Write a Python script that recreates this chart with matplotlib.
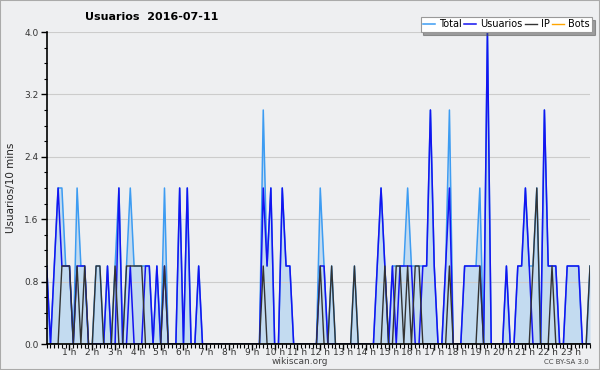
import matplotlib
matplotlib.use("Agg")
import matplotlib.pyplot as plt
from matplotlib.ticker import MultipleLocator, FixedLocator
import numpy as np

# 10-minute slots, 0:00 .. 23:50
total = [1,0,1,2,2,1,1,0,2,1, 1,0,0,1,1,0,1,0,1,2,
         0,1,2,1,1,1,1,1,0,1, 0,2,0,0,0,2,0,2,0,0,
         1,0,0,0,0,0,0,0,0,0, 0,0,0,0,0,0,0,3,1,2,
         0,0,2,1,1,0,0,0,0,0, 0,0,2,1,0,1,0,0,0,0,
         0,1,0,0,0,0,0,1,2,1, 0,1,1,1,1,2,1,1,1,1,
         1,3,1,0,0,1,3,0,0,0, 1,1,1,1,2,0,4,0,0,0,
         0,1,0,0,1,1,2,1,1,2, 0,3,1,1,1,0,0,1,1,1,
         1,0,0,1]
usuarios = [1,0,1,2,1,1,1,0,1,1, 1,0,0,0,0,0,1,0,0,2,
            0,0,1,0,0,0,1,1,0,1, 0,1,0,0,0,2,0,2,0,0,
            1,0,0,0,0,0,0,0,0,0, 0,0,0,0,0,0,0,2,1,2,
            0,0,2,1,1,0,0,0,0,0, 0,0,1,1,0,0,0,0,0,0,
            0,0,0,0,0,0,0,1,2,1, 0,1,0,1,1,1,1,0,0,1,
            1,3,1,0,0,1,2,0,0,0, 1,1,1,1,1,0,4,0,0,0,
            0,1,0,0,1,1,2,1,0,0, 0,3,1,1,1,0,0,1,1,1,
            1,0,0,0]
ip = [0,0,0,0,1,1,1,0,1,0, 1,0,0,1,1,0,0,0,1,0,
      0,1,1,1,1,1,0,0,0,0, 0,1,0,0,0,0,0,0,0,0,
      0,0,0,0,0,0,0,0,0,0, 0,0,0,0,0,0,0,1,0,0,
      0,0,0,0,0,0,0,0,0,0, 0,0,1,0,0,1,0,0,0,0,
      0,1,0,0,0,0,0,0,0,1, 0,0,1,1,0,1,0,1,1,0,
      0,0,0,0,0,0,1,0,0,0, 0,0,0,0,1,0,0,0,0,0,
      0,0,0,0,0,0,0,0,1,2, 0,0,0,1,0,0,0,0,0,0,
      0,0,0,1]
bots = [0] * 144
hour_labels = [f"{h} h" for h in range(1, 24)]

t = np.arange(len(total)) / 6.0
bg = "#eeeff1"

fig = plt.figure(figsize=(6, 3.7), dpi=100, facecolor=bg)
ax = fig.add_axes([46.7/600, 26/370, (590-46.7)/600, 312/370])
ax.set_facecolor(bg)

c_total = "#3d9cf2"
c_fill = "#c3dbf0"
c_user = "#1414f0"
c_ip = "#333333"
c_bots = "#ffa500"

ax.fill_between(t, total, 0, color=c_fill, lw=0, zorder=1)
ax.plot(t, bots, color=c_bots, lw=1, zorder=2, label="Bots")
ax.plot(t, total, color=c_total, lw=1.1, zorder=3, label="Total")
ax.plot(t, usuarios, color=c_user, lw=1.1, zorder=4, label="Usuarios")
ax.plot(t, ip, color=c_ip, lw=1.0, zorder=5, label="IP")

ax.set_xlim(0, t[-1])
ax.set_ylim(0, 4.0)
ax.yaxis.set_minor_locator(MultipleLocator(0.2))
ax.set_yticks([0, 0.8, 1.6, 2.4, 3.2, 4.0])
ax.set_yticklabels(["0.0", "0.8", "1.6", "2.4", "3.2", "4.0"])
ax.grid(axis="y", which="major", color="#cccccc", lw=0.8, zorder=0)
ax.xaxis.set_major_locator(FixedLocator(list(range(1, 24))))
ax.set_xticklabels(hour_labels)
ax.xaxis.set_minor_locator(MultipleLocator(1/6))
ax.tick_params(axis="y", which="major", labelsize=6.5, length=4, width=1, color="black", pad=2, labelcolor="#333333")
ax.tick_params(axis="y", which="minor", length=2.5, width=0.8, color="black")
ax.tick_params(axis="x", which="major", labelsize=6.5, length=4, width=1, color="black", pad=-1, labelcolor="#333333")
ax.tick_params(axis="x", which="minor", length=3, width=0.8, color="black")
for s in ["top", "right"]:
    ax.spines[s].set_visible(False)
for s in ["left", "bottom"]:
    ax.spines[s].set_linewidth(1.2)
    ax.spines[s].set_zorder(6)

ax.set_ylabel("Usuarios/10 mins", fontsize=7.5, labelpad=6, color="#222222")
fig.text(85/600, 1 - 17/370, "Usuarios  2016-07-11", fontsize=8, fontweight="bold", va="center", ha="left")
fig.text(300/600, 1 - 362/370, "wikiscan.org", fontsize=6.5, ha="center", va="center", color="#444444")
fig.text(589/600, 1 - 362/370, "CC BY-SA 3.0", fontsize=5, ha="right", va="center", color="#444444")

h, l = ax.get_legend_handles_labels()
order = [1, 2, 3, 0]
leg = ax.legend([h[i] for i in order], [l[i] for i in order], loc="upper right",
                bbox_to_anchor=(592/600, 1 - 17/370), bbox_transform=fig.transFigure,
                ncol=4, fontsize=7, frameon=True, fancybox=False, shadow=True,
                handlelength=1.2, handletextpad=0.4, columnspacing=0.3, borderpad=0.25,
                borderaxespad=0)
leg.get_frame().set_edgecolor("#999999")
leg.get_frame().set_linewidth(0.8)
leg.set_zorder(10)

fig.patches.append(plt.Rectangle((0, 0), 1, 1, transform=fig.transFigure, fill=False,
                                 edgecolor="#aaaaaa", lw=1.5))
fig.savefig("out.png", dpi=100, facecolor=bg)
